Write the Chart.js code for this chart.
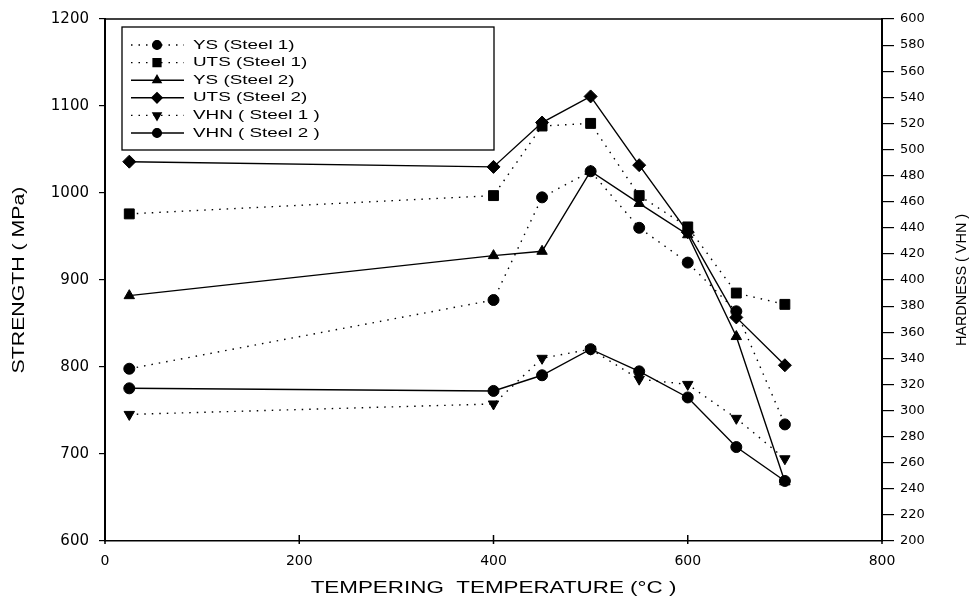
<!DOCTYPE html>
<html>
<head>
<meta charset="utf-8">
<script src="https://cdn.jsdelivr.net/npm/chart.js@4/dist/chart.umd.min.js"></script>
<style>
  body { margin: 0; background: #fff; }
</style>
</head>
<body>
<canvas id="chart" width="974" height="601"></canvas>
<script>
// tempering temperatures (deg C)
const temps = [25, 400, 450, 500, 550, 600, 650, 700];

// strength (MPa) - left axis
const ysSteel1 = [798, 877, 995, 1025, 960, 920, 864, 734];
const utsSteel1 = [976, 997, 1077, 1080, 997, 961, 885, 872];
const ysSteel2 = [882, 928, 933, 1025, 988, 952, 835, 668];
const utsSteel2 = [1036, 1030, 1081, 1111, 1032, 955, 857, 802];

// hardness (VHN) - right axis
const vhnSteel1 = [297, 305, 340, 347, 324, 320, 294, 263];
const vhnSteel2 = [317, 315, 327, 347, 330, 310, 272, 246];

// tick labels
const tempTicks = [0, 200, 400, 600, 800];
const strengthTicks = [600, 700, 800, 900, 1000, 1100, 1200];
const hardnessTicks = [200, 220, 240, 260, 280, 300, 320, 340, 360, 380, 400,
  420, 440, 460, 480, 500, 520, 540, 560, 580, 600];

const seriesNames = ["YS (Steel 1)", "UTS (Steel 1)", "YS (Steel 2)",
  "UTS (Steel 2)", "VHN ( Steel 1 )", "VHN ( Steel 2 )"];

const dotted = [1.5, 6];

// builds {x, y} points from the temperature list
function pts(values) {
  return temps.map((t, i) => ({ x: t, y: values[i] }));
}

function series(i, values, style, dash, axis, opts = {}) {
  return Object.assign({
    label: seriesNames[i],
    data: pts(values),
    yAxisID: axis,
    borderColor: "#000",
    backgroundColor: "#000",
    borderWidth: 1.4,
    borderDash: dash,
    pointStyle: style,
    pointRadius: 5.5,
    pointBorderWidth: 1,
    tension: 0,
  }, opts);
}

// plain numbers, no thousands separator
const plain = (v) => String(v);

// draws text with a horizontal stretch, the original print is wide
function wideText(ctx, text, x, y, sx, rot) {
  ctx.save();
  ctx.translate(x, y);
  if (rot) ctx.rotate(rot);
  ctx.scale(sx, 1);
  ctx.fillText(text, 0, 0);
  ctx.restore();
}

// frame, inner ticks, titles and boxed legend
const decorations = {
  id: "decorations",
  afterDraw(chart) {
    const { ctx, chartArea: a, scales } = chart;
    ctx.save();
    ctx.strokeStyle = "#000";
    ctx.fillStyle = "#000";
    ctx.lineWidth = 1.5;

    // top edge of the frame
    ctx.beginPath();
    ctx.moveTo(a.left, a.top);
    ctx.lineTo(a.right, a.top);
    ctx.stroke();

    // x ticks point into the plot
    ctx.beginPath();
    tempTicks.forEach((v) => {
      const px = scales.x.getPixelForValue(v);
      ctx.moveTo(px, a.bottom + 3);
      ctx.lineTo(px, a.bottom - 6);
    });
    ctx.stroke();

    // axis titles
    ctx.textAlign = "center";
    ctx.textBaseline = "middle";
    ctx.font = "16px 'Liberation Sans'";
    wideText(ctx, "TEMPERING  TEMPERATURE (\u00B0C )", (a.left + a.right) / 2, 589, 1.4, 0);
    ctx.font = "16px 'Liberation Sans'";
    wideText(ctx, "STRENGTH ( MPa)", 20, (a.top + a.bottom) / 2, 1.33, -Math.PI / 2);
    ctx.font = "14px 'Liberation Sans'";
    wideText(ctx, "HARDNESS ( VHN )", 962, (a.top + a.bottom) / 2, 1.03, -Math.PI / 2);

    // legend box
    const box = { left: 122, top: 27, right: 494, bottom: 150 };
    ctx.lineWidth = 1.3;
    ctx.strokeRect(box.left, box.top, box.right - box.left, box.bottom - box.top);

    ctx.textAlign = "left";
    ctx.font = "13px 'Liberation Sans'";
    chart.data.datasets.forEach((ds, i) => {
      const y = 45 + i * 17.6;
      ctx.save();
      ctx.lineWidth = ds.borderWidth;
      ctx.setLineDash(ds.borderDash || []);
      ctx.beginPath();
      ctx.moveTo(131, y);
      ctx.lineTo(184, y);
      ctx.stroke();
      ctx.restore();
      if (Chart.helpers && Chart.helpers.drawPoint) {
        Chart.helpers.drawPoint(ctx, {
          pointStyle: ds.pointStyle,
          rotation: ds.pointRotation || 0,
          radius: ds.pointRadius * 0.8,
          borderWidth: 1,
        }, 157, y);
        ctx.fill();
      }
      wideText(ctx, ds.label, 193, y, 1.45, 0);
    });
    ctx.restore();
  },
};

new Chart(document.getElementById("chart"), {
  type: "line",
  data: {
    datasets: [
      series(0, ysSteel1, "circle", dotted, "y"),
      series(1, utsSteel1, "rect", dotted, "y", { pointRadius: 7 }),
      series(2, ysSteel2, "triangle", [], "y", { pointRadius: 6 }),
      series(3, utsSteel2, "rectRot", [], "y", { pointRadius: 6.5 }),
      series(4, vhnSteel1, "triangle", dotted, "y1", { pointRadius: 6, pointRotation: 180 }),
      series(5, vhnSteel2, "circle", [], "y1"),
    ],
  },
  plugins: [decorations],
  options: {
    responsive: false,
    animation: false,
    layout: { padding: { top: 17, right: 0, left: 0, bottom: 0 } },
    plugins: {
      legend: { display: false },
      tooltip: { enabled: false },
    },
    scales: {
      x: {
        type: "linear",
        min: 0,
        max: 800,
        afterBuildTicks: (s) => { s.ticks = tempTicks.map((v) => ({ value: v })); },
        afterFit: (s) => { s.height = 60; },
        grid: { display: false },
        border: { display: true, color: "#000", width: 1.5 },
        ticks: { color: "#000", padding: 4, callback: plain, font: { family: "DejaVu Sans", size: 14 } },
      },
      y: {
        position: "left",
        min: 600,
        max: 1200,
        afterBuildTicks: (s) => { s.ticks = strengthTicks.map((v) => ({ value: v })); },
        afterFit: (s) => { s.width = 105; },
        grid: { drawOnChartArea: false, tickLength: 6, color: "#000", lineWidth: 1.2 },
        border: { display: true, color: "#000", width: 2 },
        ticks: { color: "#000", padding: 10, callback: plain, font: { family: "DejaVu Sans", size: 15 } },
      },
      y1: {
        position: "right",
        min: 200,
        max: 600,
        afterBuildTicks: (s) => { s.ticks = hardnessTicks.map((v) => ({ value: v })); },
        afterFit: (s) => { s.width = 92; },
        grid: { drawOnChartArea: false, tickLength: 12, color: "#000", lineWidth: 1.2 },
        border: { display: true, color: "#000", width: 2 },
        ticks: { color: "#000", padding: 6, callback: plain, font: { family: "DejaVu Sans", size: 13 } },
      },
    },
  },
});
</script>
</body>
</html>
